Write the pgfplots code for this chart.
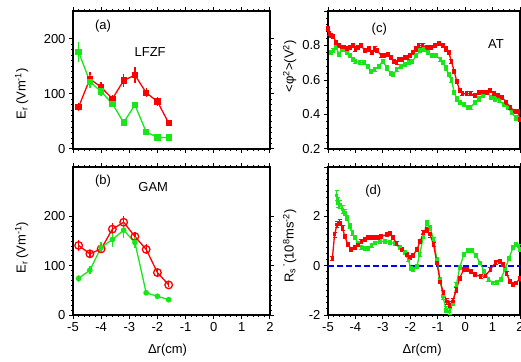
\documentclass[border=0pt]{standalone}
\usepackage{fontspec}
\setmainfont{Liberation Sans}
\usepackage{pgfplots}
\usepackage{pgfplotstable}
\pgfplotsset{compat=1.18}
\definecolor{myred}{RGB}{255,0,0}
\definecolor{mygreen}{RGB}{25,230,25}
\definecolor{myblue}{RGB}{0,0,255}

\pgfplotstableread{
x y e
-4.8 76 7
-4.4 127 12
-4.0 112 10
-3.6 91 7
-3.2 124 12
-2.8 134 14
-2.4 102 8
-2.0 86 8
-1.6 47 5
}\aRed
\pgfplotstableread{
x y e
-4.8 176 18
-4.4 122 12
-4.0 104 8
-3.6 82 6
-3.2 48 5
-2.8 80 6
-2.4 31 3
-2.0 21 2
-1.6 21 2
}\aGreen
\pgfplotstableread{
x y e
-4.8 141 12
-4.4 124 8
-4.0 134 8
-3.6 174 12
-3.2 188 12
-2.8 159 10
-2.4 133 10
-2.0 86 8
-1.6 61 5
}\bRed
\pgfplotstableread{
x y e
-4.8 74 8
-4.4 91 8
-4.0 137 10
-3.6 153 15
-3.2 172 15
-2.8 147 12
-2.4 45 3
-2.0 38 3
-1.6 31 3
}\bGreen
\pgfplotstableread{
x y
-5.00 0.90
-4.95 0.87
-4.90 0.86
-4.80 0.85
-4.70 0.82
-4.60 0.80
-4.50 0.79
-4.40 0.79
-4.30 0.78
-4.20 0.79
-4.10 0.80
-4.00 0.78
-3.90 0.79
-3.80 0.80
-3.65 0.77
-3.50 0.78
-3.40 0.76
-3.30 0.78
-3.20 0.77
-3.05 0.74
-2.95 0.74
-2.80 0.75
-2.70 0.73
-2.60 0.71
-2.50 0.70
-2.40 0.72
-2.30 0.72
-2.20 0.73
-2.10 0.73
-2.00 0.74
-1.90 0.76
-1.80 0.78
-1.70 0.80
-1.55 0.80
-1.40 0.79
-1.25 0.79
-1.10 0.80
-0.95 0.81
-0.82 0.80
-0.70 0.78
-0.60 0.76
-0.50 0.71
-0.40 0.65
-0.30 0.59
-0.20 0.54
-0.10 0.52
0.05 0.52
0.20 0.52
0.35 0.51
0.50 0.53
0.65 0.53
0.80 0.53
0.90 0.54
1.05 0.52
1.20 0.51
1.35 0.50
1.50 0.47
1.65 0.44
1.80 0.42
1.92 0.42
2.00 0.37
}\cRed
\pgfplotstableread{
x y
-4.90 0.76
-4.80 0.77
-4.70 0.79
-4.60 0.75
-4.50 0.78
-4.40 0.78
-4.30 0.76
-4.20 0.74
-4.10 0.72
-4.00 0.71
-3.85 0.70
-3.70 0.70
-3.55 0.68
-3.42 0.65
-3.30 0.66
-3.15 0.68
-3.00 0.71
-2.85 0.67
-2.72 0.64
-2.62 0.63
-2.50 0.66
-2.35 0.68
-2.20 0.69
-2.05 0.70
-1.92 0.71
-1.78 0.74
-1.65 0.77
-1.50 0.78
-1.35 0.76
-1.20 0.74
-1.05 0.74
-0.90 0.72
-0.80 0.70
-0.70 0.67
-0.60 0.63
-0.50 0.60
-0.40 0.53
-0.30 0.49
-0.20 0.47
-0.05 0.46
0.10 0.44
0.20 0.44
0.35 0.47
0.50 0.49
0.65 0.51
0.80 0.53
0.95 0.50
1.10 0.49
1.25 0.48
1.40 0.46
1.55 0.44
1.70 0.41
1.85 0.38
2.00 0.37
}\cGreen
\pgfplotstableread{
x y e
-4.84 0.31 0.08
-4.76 1.26 0.10
-4.67 1.67 0.12
-4.57 1.74 0.12
-4.47 1.53 0.10
-4.39 1.19 0.08
-4.27 0.85 0.08
-4.15 0.65 0.08
-4.02 0.72 0.08
-3.90 0.85 0.08
-3.78 0.99 0.08
-3.66 1.08 0.08
-3.53 1.13 0.08
-3.41 1.13 0.08
-3.29 1.13 0.08
-3.17 1.13 0.08
-3.05 1.19 0.08
-2.86 1.26 0.08
-2.74 1.30 0.08
-2.62 1.13 0.08
-2.50 0.89 0.08
-2.31 0.65 0.08
-2.13 0.45 0.08
-2.01 0.35 0.08
-1.91 0.41 0.08
-1.76 0.65 0.08
-1.64 0.99 0.08
-1.52 1.33 0.08
-1.40 1.46 0.10
-1.28 1.26 0.10
-1.15 0.85 0.08
-1.03 0.11 0.08
-0.91 -0.64 0.08
-0.79 -1.11 0.10
-0.67 -1.45 0.12
-0.57 -1.59 0.12
-0.45 -1.45 0.12
-0.32 -0.98 0.10
-0.20 -0.50 0.08
-0.05 -0.16 0.08
0.07 -0.14 0.08
0.21 -0.23 0.08
0.37 -0.37 0.08
0.56 -0.43 0.08
0.74 -0.41 0.08
0.92 -0.16 0.08
1.11 0.14 0.08
1.26 0.18 0.08
1.39 0.04 0.08
1.51 -0.30 0.08
1.63 -0.64 0.08
1.75 -0.77 0.08
1.87 -0.70 0.08
2.00 -0.50 0.08
}\dRed
\pgfplotstableread{
x y e
-4.69 2.85 0.20
-4.63 2.55 0.20
-4.57 2.48 0.18
-4.47 2.28 0.15
-4.39 2.14 0.12
-4.30 1.94 0.10
-4.21 1.60 0.10
-4.11 1.33 0.10
-4.02 1.13 0.08
-3.90 0.92 0.08
-3.78 0.72 0.08
-3.66 0.68 0.08
-3.53 0.69 0.08
-3.41 0.81 0.08
-3.29 0.92 0.08
-3.11 0.99 0.08
-2.93 0.99 0.08
-2.74 0.95 0.08
-2.56 0.89 0.08
-2.38 0.72 0.08
-2.19 0.52 0.08
-2.07 0.24 0.08
-1.98 -0.10 0.08
-1.89 -0.14 0.08
-1.76 -0.03 0.08
-1.66 0.45 0.08
-1.52 1.19 0.10
-1.40 1.74 0.10
-1.28 1.53 0.10
-1.15 1.06 0.08
-1.03 0.24 0.08
-0.91 -0.57 0.08
-0.81 -1.25 0.10
-0.69 -1.79 0.12
-0.57 -1.86 0.12
-0.45 -1.52 0.10
-0.32 -0.77 0.08
-0.20 -0.09 0.08
-0.05 0.45 0.08
0.10 0.62 0.08
0.25 0.62 0.08
0.40 0.40 0.08
0.55 0.11 0.08
0.70 -0.25 0.08
0.85 -0.55 0.08
1.00 -0.70 0.08
1.15 -0.68 0.08
1.30 -0.55 0.08
1.45 -0.15 0.08
1.60 0.30 0.08
1.75 0.75 0.08
1.85 0.85 0.08
1.95 0.80 0.08
2.00 0.65 0.08
}\dGreen

\pgfplotsset{
  panel/.style={
    scale only axis,
    xmin=-5, xmax=2, xtick={-5,...,2}, minor x tick num=4,
    tick align=outside,
    axis line style={line width=1.5pt},
    major tick length=4pt, minor tick length=2pt,
    every tick/.style={black, line width=1pt},
    every minor tick/.style={black, line width=0.8pt},
    tick label style={font=\fontsize{13}{15}\selectfont},
    label style={font=\fontsize{13}{15}\selectfont},
    /pgf/number format/assume math mode=true,
    clip=false,
  },
  ebar/.style={error bars/.cd, y dir=both, y explicit, error mark=none,
    error bar style={line width=1.3pt}},
  ebarcap/.style={error bars/.cd, y dir=both, y explicit,
    error bar style={line width=0.9pt},
    error mark options={rotate=90, mark size=2pt, line width=0.9pt}},
  ebarcapc/.style={error bars/.cd, y dir=both, y fixed=0.012,
    error bar style={line width=0.9pt},
    error mark options={rotate=90, mark size=2pt, line width=0.9pt}},
}

\begin{document}
\begin{tikzpicture}
% (a)
\begin{axis}[panel, at={(73pt,212pt)}, anchor=south west, width=197pt, height=138pt,
  ymin=0, ymax=250, ytick={0,100,200}, minor y tick num=9,
  xticklabels={},
  ylabel={E\textsubscript{r}\,(Vm\textsuperscript{-1})},
  ylabel style={at={(axis description cs:-0.26,0.40)}, anchor=center}]
\addplot[myred, line width=1.3pt, mark=square*, mark size=2.5pt, mark options={solid}, ebar] table[x=x,y=y,y error=e]{\aRed};
\addplot[mygreen, line width=1.3pt, mark=square*, mark size=2.5pt, mark options={solid}, ebar] table[x=x,y=y,y error=e]{\aGreen};
\node[font=\fontsize{13}{15}\selectfont] at (axis cs:-3.93,222) {(a)};
\node[font=\fontsize{13}{15}\selectfont] at (axis cs:-2.26,176) {LFZF};
\end{axis}
% (b)
\begin{axis}[panel, at={(73pt,46pt)}, anchor=south west, width=197pt, height=148pt,
  ymin=0, ymax=300, ytick={0,100,200}, minor y tick num=9,
  xlabel={Δr(cm)},
  xlabel style={at={(axis description cs:0.48,-0.236)}, anchor=center},
  ylabel={E\textsubscript{r}\,(Vm\textsuperscript{-1})},
  ylabel style={at={(axis description cs:-0.26,0.456)}, anchor=center}]
\addplot[myred, line width=1.3pt, mark=o, mark size=3.8pt, mark options={solid, line width=1.3pt}, ebar] table[x=x,y=y,y error=e]{\bRed};
\addplot[mygreen, line width=1.3pt, mark=*, mark size=2.2pt, mark options={solid}, ebar] table[x=x,y=y,y error=e]{\bGreen};
\node[font=\fontsize{13}{15}\selectfont] at (axis cs:-3.93,272) {(b)};
\node[font=\fontsize{13}{15}\selectfont] at (axis cs:-2.15,260) {GAM};
\end{axis}
% (c)
\begin{axis}[panel, at={(328pt,212pt)}, anchor=south west, width=192pt, height=138pt,
  ymin=0.2, ymax=1.0, ytick={0.2,0.4,0.6,0.8,1.0}, yticklabels={0.2,0.4,0.6,0.8,}, minor y tick num=4,
  xticklabels={},
  ylabel={<φ\textsuperscript{2}>(V\textsuperscript{2})},
  ylabel style={at={(axis description cs:-0.2,0.60)}, anchor=center}]
\addplot[mygreen, line width=1.3pt, mark=square*, mark size=1.2pt, mark options={solid}, ebarcapc] table[x=x,y=y]{\cGreen};
\addplot[myred, line width=1.3pt, mark=square*, mark size=1.2pt, mark options={solid}, ebarcapc] table[x=x,y=y]{\cRed};
\node[font=\fontsize{13}{15}\selectfont] at (axis cs:-3.13,0.894) {(c)};
\node[font=\fontsize{13}{15}\selectfont] at (axis cs:1.12,0.81) {AT};
\end{axis}
% (d)
\begin{axis}[panel, at={(328pt,46pt)}, anchor=south west, width=192pt, height=148pt,
  ymin=-2, ymax=4, ytick={-2,0,2,4}, yticklabels={-2,0,2,}, minor y tick num=7,
  xlabel={Δr(cm)},
  xlabel style={at={(axis description cs:0.49,-0.236)}, anchor=center},
  ylabel={R\textsubscript{s}\,\textsuperscript{'}(10\textsuperscript{8}ms\textsuperscript{-2})},
  ylabel style={at={(axis description cs:-0.2,0.466)}, anchor=center}]
\addplot[draw=myblue, line width=1.8pt, dash pattern=on 6pt off 3pt] coordinates {(-5,0) (2,0)};
\addplot[mygreen, line width=1.3pt, mark=square*, mark size=1.2pt, mark options={solid}, ebarcap] table[x=x,y=y,y error=e]{\dGreen};
\addplot[myred, line width=1.3pt, mark=square*, mark size=1.2pt, mark options={solid}, ebarcap] table[x=x,y=y,y error=e]{\dRed};
\node[font=\fontsize{13}{15}\selectfont] at (axis cs:-3.35,3.02) {(d)};
\end{axis}
\pgfresetboundingbox
\path[use as bounding box] (0,0) rectangle (521pt,361pt);
\end{tikzpicture}
\end{document}
